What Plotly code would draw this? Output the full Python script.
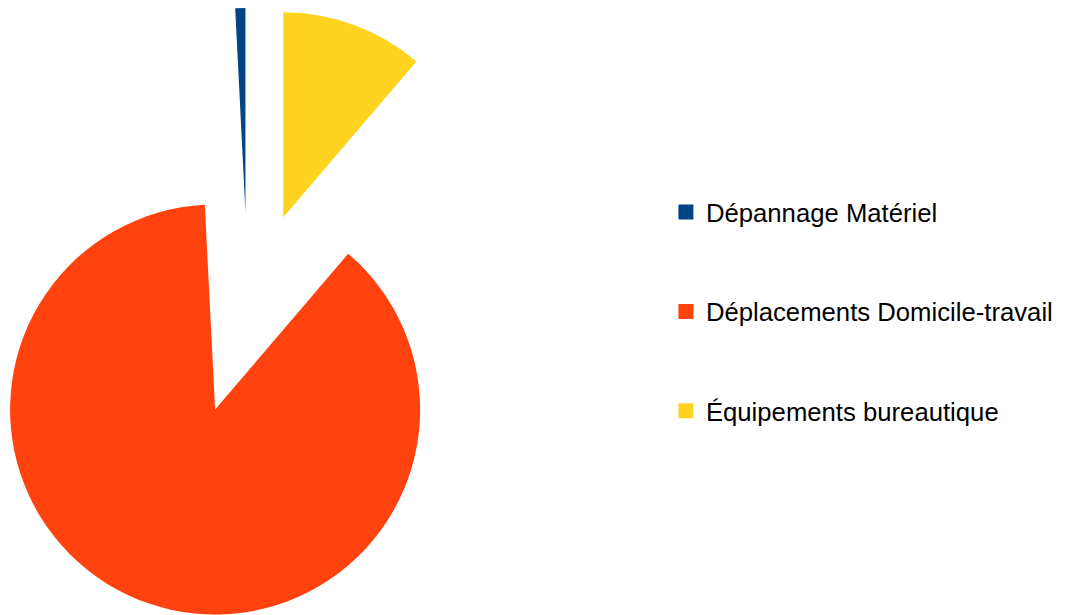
import math
import plotly.graph_objects as go

labels = ["Dépannage Matériel", "Déplacements Domicile-travail", "Équipements bureautique"]
values = [0.8, 87.95, 11.25]
colors = ["#004586", "#ff420e", "#ffd320"]

W, H = 1067, 615
R = 205            # slice radius, px
CX, CY = 240, 305  # centre of the un-exploded pie, px from top-left of the figure
PULL = 102         # explosion offset, px

fig = go.Figure()

# plotly's counterclockwise pie puts the first slice just right of 12 o'clock,
# rotate back so it ends at 12 o'clock like the original
total = sum(values)
rot = -values[0] / total * 360

# one pie per slice so each exploded slice keeps the full radius;
# the other slices of that pie are left transparent
start = 0.0
for i, (lab, val, col) in enumerate(zip(labels, values, colors)):
    mid = -(start + val / 2) / total * 2 * math.pi
    start += val
    cx = CX + PULL * math.sin(mid)
    cy = CY - PULL * math.cos(mid)
    dx = [max(0, (cx - R) / W), min(1, (cx + R) / W)]
    dy = [max(0, (H - cy - R) / H), min(1, (H - cy + R) / H)]
    fig.add_trace(go.Pie(
        labels=labels, values=values, sort=False,
        direction="counterclockwise", rotation=rot,
        marker=dict(colors=[c if j == i else "rgba(0,0,0,0)" for j, c in enumerate(colors)],
                    line=dict(width=0)),
        textinfo="none", showlegend=False,
        domain=dict(x=dx, y=dy),
    ))

# legend entries
for lab, col in zip(labels, colors):
    fig.add_trace(go.Scatter(
        x=[None], y=[None], mode="markers", name=lab, legendgroup=lab,
        marker=dict(symbol="square", size=15, color=col),
    ))

fig.update_layout(
    width=W, height=H,
    margin=dict(l=0, r=0, t=0, b=0),
    paper_bgcolor="white", plot_bgcolor="white",
    xaxis=dict(visible=False), yaxis=dict(visible=False),
    showlegend=True,
    legend=dict(x=0.6166, y=0.506, xanchor="left", yanchor="middle",
                font=dict(family="Liberation Sans", size=25.7, color="#000"),
                tracegroupgap=63, bgcolor="rgba(0,0,0,0)"),
)

fig.write_html("out.html")
